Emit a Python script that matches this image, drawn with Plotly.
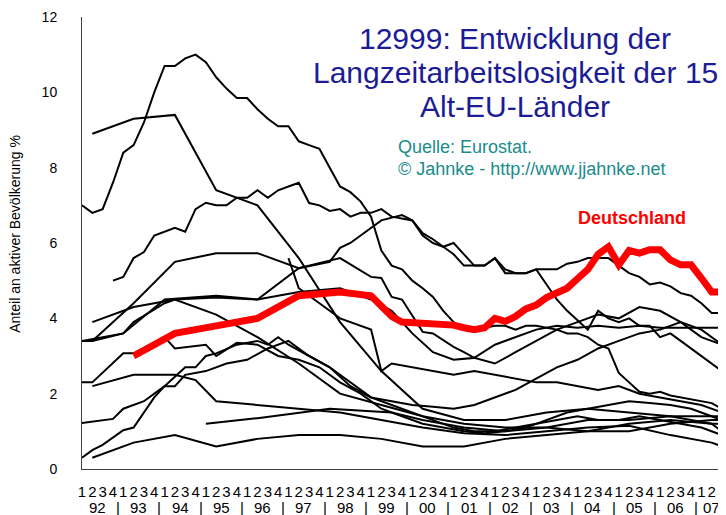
import plotly.graph_objects as go

# Quartale 1992Q1 .. 2007Q3 (63 Werte), None = kein Wert (Jahreswerte werden verbunden)
_ = None
quarters = ["1", "2", "3", "4"] * 15 + ["1", "2", "3"]
years = ["92", "93", "94", "95", "96", "97", "98", "99", "00", "01", "02", "03", "04", "05", "06", "07"]

deutschland = [_, _, _, _,  _, 3.0, _, _,  _, 3.6, _, _,  _, 3.8, _, _,
               _, 4.0, _, _,  _, 4.6, _, _,  _, 4.7, _, _,  4.6, 4.3, 4.05, 3.9,
               3.88, 3.85, 3.82, 3.82,  3.82, 3.75, 3.7, 3.75,  4.0, 3.92, 4.05, 4.25,  4.35, 4.55, 4.7, 4.8,
               5.05, 5.3, 5.7, 5.9,  5.42, 5.8, 5.73, 5.82,  5.82, 5.55, 5.42, 5.42,  5.07, 4.7, 4.7]

spanien = [7.0, 6.8, 6.9, 7.6,  8.4, 8.6, 9.2, 10.0,  10.7, 10.7, 10.9, 11.0,  10.8, 10.4, 10.1, 9.85,
           9.85, 9.55, 9.3, 9.1,  9.1, 8.7, 8.6, 8.5,  8.0, 7.5, 7.35, 7.1,  6.7, 5.8, 5.4, 5.3,
           5.0, 4.8, 4.57, 4.2,  3.9, 3.7, 3.7, 3.75,  3.8, 3.8, 3.7, 3.8,  3.8, 3.75, 3.7, 3.6,
           3.6, 3.5, 3.3, 3.2,  2.55, 2.3, 2.05, 2.0,  2.05, 1.95, 1.9, 1.85,  1.8, 1.75, 1.6]

irland = [_, 8.9, _, _,  _, 9.3, _, _,  _, 9.4, _, _,  _, 7.4, _, _,
          _, 7.0, _, _,  _, 5.6, _, _,  _, 3.9, _, _,  _, 2.6, _, _,
          _, 1.6, _, _,  _, 1.3, _, _,  _, 1.3, _, _,  _, 1.5, _, _,
          _, 1.6, _, _,  _, 1.5, _, _,  _, 1.4, _, _,  _, 1.4, 1.4]

italien = [_, _, _, 5.0,  5.1, 5.6, 5.76, 6.2,  6.3, 6.4, 6.3, 6.9,  7.07, 7.0, 7.0, 7.2,
           7.2, 7.4, 7.2, 7.4,  7.5, 7.6, 7.06, 7.0,  6.85, 6.9, 6.7, 6.8,  6.8, 6.9, 6.7, 6.65,
           6.6, 6.2, 6.0, 5.9,  5.7, 5.4, 5.4, 5.4,  5.6, 5.3, 5.2, 5.2,  5.3, 4.9, 4.5, 4.2,
           3.95, 3.7, 4.2, 4.0,  3.9, 4.0, 3.8, 3.8,  3.5, 3.6, 3.4, 3.2,  3.0, 2.8, 2.6]

griechenland = [_, 3.9, _, _,  _, 4.3, _, _,  _, 4.5, _, _,  _, 4.55, _, _,
                _, 4.5, _, _,  _, 5.33, _, _,  5.5, 5.87, 6.0, _,  6.4, 6.6, _, 6.74,
                6.6, 6.26, 6.1, 5.9,  6.0, 5.7, 5.4, 5.4,  5.6, 5.2, 5.2, 5.2,  5.3, 5.3, 5.3, 5.45,
                5.5, 5.6, 5.6, 5.6,  5.4, 5.2, 5.1, 4.9,  4.95, 4.85, 4.67, 4.6,  4.4, 4.14, 4.14]

belgien = [_, 3.4, _, _,  _, 4.4, _, _,  _, 5.5, _, _,  _, 5.73, _, _,
           _, 5.73, _, _,  _, 5.33, _, _,  _, 5.6, _, _,  5.1, 5.07, 4.57, 4.5,
           _, 3.64, 3.6, _,  3.24, 3.1, 2.95, _,  3.3, _, 3.5, _,  3.7, _, 3.8, _,
           3.75, _, 3.8, _,  3.75, _, 3.8, _,  3.75, _, 3.75, _,  3.75, _, 3.75]

frankreich = [3.4, _, _, _,  3.6, _, _, _,  4.5, _, _, _,  _, 4.6, _, _,
              _, 4.5, _, _,  _, 4.7, _, _,  _, 4.8, _, _,  4.5, _, 4.2, _,
              3.6, _, 3.1, _,  2.9, _, 2.95, _,  2.8, _, 3.1, _,  3.4, _, 3.7, _,
              3.9, _, 4.1, _,  4.0, _, 4.3, _,  4.2, _, 3.9, _,  3.5, _, 3.3]

finnland = [_, _, _, _,  _, _, _, _,  _, _, _, _,  _, _, _, _,
            _, _, _, _,  5.6, 4.8, _, _,  4.2, 4.0, _, _,  3.7, 2.6, 2.8, _,
            2.7, _, 2.6, _,  2.5, _, 2.6, _,  2.5, _, 2.4, _,  2.3, _, 2.3, _,
            2.2, _, 2.1, _,  2.2, _, 2.0, _,  1.9, _, 1.8, _,  1.7, _, 1.5]

grossbritannien = [3.4, 3.4, _, _,  3.6, 3.9, _, _,  4.4, 4.5, _, _,  _, 4.1, _, _,
                   _, 3.5, _, _,  _, 2.8, _, _,  _, 2.0, _, _,  _, 1.7, _, _,
                   _, 1.4, _, _,  _, 1.2, _, _,  _, 1.1, _, _,  _, 1.1, _, _,
                   _, 1.0, _, _,  _, 1.0, _, _,  _, 1.2, _, _,  _, 1.3, 1.3]

niederlande = [2.3, 2.3, _, _,  3.07, 3.07, _, _,  3.5, 3.2, _, _,  3.3, 3.0, _, 3.35,
               _, 3.3, _, 3.0,  _, 2.9, _, 2.7,  _, 2.3, _, 2.0,  _, 1.6, _, 1.4,
               _, 1.2, _, 1.1,  _, 1.0, _, 0.95,  _, 1.0, _, 1.1,  _, 1.3, _, 1.5,
               _, 1.6, _, 1.7,  _, 1.8, _, 1.75,  _, 1.7, _, 1.6,  _, 1.4, 1.3]

daenemark = [_, 2.2, _, _,  _, 2.5, _, _,  _, 2.5, _, 2.36,  _, 1.8, _, 1.75,
             _, 1.7, _, _,  _, 1.6, _, _,  _, 1.5, _, _,  _, 1.3, _, _,
             _, 1.1, _, _,  _, 0.95, _, _,  _, 0.9, _, _,  _, 1.0, _, _,
             _, 1.1, _, _,  _, 1.15, _, _,  _, 0.9, _, _,  _, 0.7, 0.6]

portugal = [1.22, _, _, 1.33,  1.6, _, 1.8, _,  2.2, _, 2.7, 2.7,  3.0, 3.07, _, 3.3,
            _, 3.4, 3.3, 3.5,  3.3, _, 3.0, _,  2.7, _, 2.2, _,  1.9, _, 1.8, _,
            1.7, _, 1.65, _,  1.6, _, 1.7, _,  1.9, _, 2.1, _,  2.4, _, 2.7, _,
            2.9, _, 3.2, _,  3.4, _, 3.6, _,  3.7, _, 3.9, _,  3.7, _, 3.3]

schweden = [0.3, 0.5, 0.64, _,  1.03, 1.1, _, 1.9,  2.2, 2.2, 2.5, _,  2.6, _, 2.8, _,
            2.9, _, 3.2, _,  3.4, 3.2, 3.0, _,  2.7, _, 2.3, _,  1.9, _, 1.7, _,
            1.5, _, 1.3, _,  1.1, _, 1.0, _,  1.0, _, 1.1, _,  1.2, _, 1.3, _,
            1.4, _, 1.3, _,  1.3, _, 1.4, _,  1.3, _, 1.2, _,  1.1, _, 0.9]

luxemburg = [_, 0.3, _, _,  _, 0.7, _, _,  _, 0.9, _, _,  _, 0.6, _, _,
             _, 0.8, _, _,  _, 0.9, _, _,  _, 0.9, _, _,  _, 0.8, _, _,
             _, 0.6, _, _,  _, 0.6, _, _,  _, 0.8, _, _,  _, 0.9, _, _,
             _, 1.0, _, _,  _, 1.2, _, _,  _, 1.3, _, _,  _, 1.2, 1.2]

oesterreich = [_, _, _, _,  _, _, _, _,  _, _, _, _,  1.2, _, _, _,
               _, 1.35, _, _,  _, _, _, _,  1.6, _, _, _,  _, _, 1.5, _,
               _, 1.3, _, _,  _, 1.1, _, _,  _, 1.0, _, _,  _, 1.1, _, _,
               _, 1.3, _, _,  _, 1.3, _, _,  _, 1.4, _, _,  _, 1.2, 1.0]

andere_laender = [spanien, irland, italien, griechenland, belgien, frankreich, finnland,
                  grossbritannien, niederlande, daenemark, portugal, schweden, luxemburg, oesterreich]

x = list(range(len(quarters)))
schrift = "Liberation Sans, Arial"

fig = go.Figure()
for werte in andere_laender:
    fig.add_trace(go.Scatter(x=x, y=werte, mode="lines", connectgaps=True,
                             line=dict(color="black", width=2), showlegend=False))
fig.add_trace(go.Scatter(x=x, y=deutschland, mode="lines", connectgaps=True,
                         line=dict(color="#ff0000", width=7), showlegend=False))

fig.update_xaxes(range=[0, 62], tickvals=x, ticktext=quarters, showgrid=False, zeroline=False,
                 showline=True, linecolor="#404040", linewidth=1, ticks="", automargin=False,
                 tickangle=0, tickfont=dict(family=schrift, size=15, color="black"),
                 ticklabelstandoff=9)
fig.update_yaxes(range=[0, 12], dtick=2, showgrid=False, zeroline=False, automargin=False,
                 showline=True, linecolor="#404040", linewidth=1, ticks="",
                 tickfont=dict(family=schrift, size=14, color="black"),
                 ticklabelstandoff=21)

# Jahreszahlen unter den Quartalen, mit Trennstrichen
for k, jahr in enumerate(years):
    mitte = k * 4 + 1.5 if k < 15 else 61
    fig.add_annotation(x=mitte, y=-0.086, xref="x", yref="paper", text=jahr, showarrow=False,
                       xanchor="center", yanchor="middle",
                       font=dict(family=schrift, size=15, color="black"))
    if k > 0:
        fig.add_annotation(x=k * 4 - 0.5, y=-0.086, xref="x", yref="paper", text="|", showarrow=False,
                           xanchor="center", yanchor="middle",
                           font=dict(family=schrift, size=15, color="black"))

fig.add_annotation(x=-0.105, y=0.52, xref="paper", yref="paper", text="Anteil an aktiver Bevölkerung %",
                   textangle=-90, showarrow=False, xanchor="center", yanchor="middle",
                   font=dict(family=schrift, size=14, color="black"))

titel = ["12999: Entwicklung der", "Langzeitarbeitslosigkeit der 15", "Alt-EU-Länder"]
for n, zeile in enumerate(titel):
    fig.add_annotation(x=0.677, y=(469 - (38 + n * 34)) / 452, xref="paper", yref="paper", text=zeile,
                       showarrow=False, xanchor="center", yanchor="middle",
                       font=dict(family=schrift, size=30, color="#1c1c96"))

fig.add_annotation(x=0.49, y=0.712, xref="paper", yref="paper", text="Quelle: Eurostat.",
                   xanchor="left", yanchor="middle", showarrow=False,
                   font=dict(family=schrift, size=18, color="#1a8c8c"))
fig.add_annotation(x=0.49, y=0.664, xref="paper", yref="paper", text="© Jahnke - http://www.jjahnke.net",
                   xanchor="left", yanchor="middle", showarrow=False,
                   font=dict(family=schrift, size=18, color="#1a8c8c"))
fig.add_annotation(x=53.3, y=6.66, xref="x", yref="y", text="<b>Deutschland</b>", showarrow=False,
                   xanchor="center", yanchor="middle",
                   font=dict(family=schrift, size=18, color="#ff0000"))

# die Seite hat 8 px Rand, daher etwas kleiner als das Fenster
fig.update_layout(width=718, height=507, margin=dict(l=74, r=4, t=9, b=46),
                  paper_bgcolor="white", plot_bgcolor="white")

fig.write_html("out.html")
